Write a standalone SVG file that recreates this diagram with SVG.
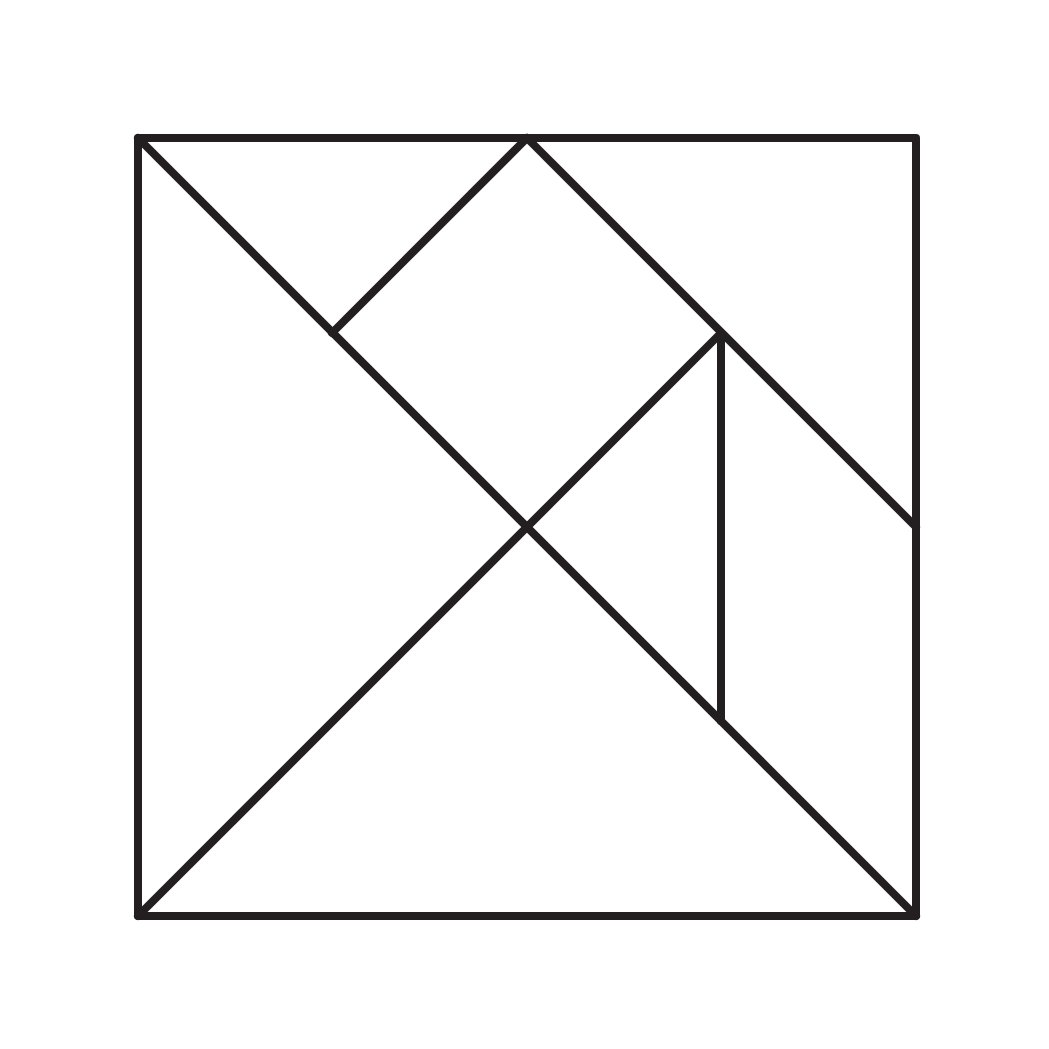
<svg xmlns="http://www.w3.org/2000/svg" width="1049" height="1049" viewBox="0 0 1049 1049">
<style>
.l{fill:none;stroke:#231f20;stroke-width:8;stroke-linecap:round;stroke-linejoin:round}
</style>
<rect width="1049" height="1049" fill="#fff"/>
<g id="tangram">
<rect class="l" x="138" y="138" width="778" height="778"/>
<line class="l" x1="138" y1="138" x2="916" y2="916"/>
<line class="l" x1="138" y1="916" x2="721" y2="333"/>
<line class="l" x1="527" y1="138" x2="916" y2="527"/>
<line class="l" x1="527" y1="138" x2="332" y2="333"/>
<line class="l" x1="721" y1="333" x2="721" y2="721"/>
</g>
</svg>
